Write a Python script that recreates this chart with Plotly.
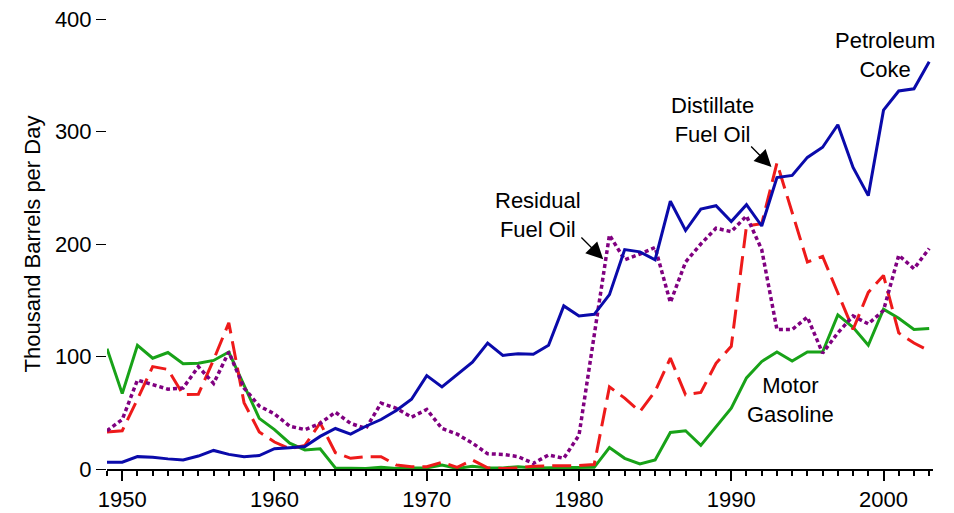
import plotly.graph_objects as go

years = list(range(1949, 2004))

petroleum_coke = [6, 6, 11, 10.5, 9, 8, 11.5, 16.5, 13, 11,
                  12, 18, 19, 20, 29, 36, 31, 38, 44, 52,
                  62, 83, 73, 84, 95, 112, 101, 102.5, 102, 110,
                  145, 136, 137.5, 155, 195, 193, 186, 238, 212, 231,
                  234, 220, 235, 216, 259, 261, 277, 286, 306, 268,
                  243, 319, 336, 338, 362]

motor_gasoline = [107, 67, 110, 98.5, 103.5, 93.5, 94, 96.5, 104, 74,
                  45, 35, 23, 17, 18, 1, 1, 0.5, 1.5, 0.5,
                  1, 1, 3.5, 0.5, 2.5, 1, 1, 2, 1, 1,
                  1, 1, 1.5, 19, 9.5, 4.5, 8, 32.5, 34, 21,
                  37.5, 54, 81, 95.5, 104, 96, 104, 104, 137, 126,
                  110, 142, 134, 124, 125]

distillate_fuel_oil = [33, 34, 62, 91, 88.5, 66, 66.5, 97, 130, 59,
                       33, 24, 18, 21, 41, 14.5, 9.5, 11, 11, 3.5,
                       2, 2, 6, 1.5, 8, 1, 0.5, 1, 2.5, 3,
                       3, 3, 4, 73, 63, 51, 69, 98.5, 66, 68,
                       94, 109, 216, 218, 272, 228, 184, 189, 157, 124,
                       157, 172, 121, 112, 105]

residual_fuel_oil = [34, 44, 79, 75, 71, 72, 91, 76, 104, 72,
                     56, 49, 38, 35, 40.5, 50.5, 40.5, 36, 58.5, 54,
                     46, 53, 36, 31, 23, 13.5, 13, 11, 5, 12.5,
                     9.5, 30, 118, 208, 186, 191, 197, 148, 184, 200,
                     214, 211, 225, 195, 124, 124, 135, 103, 121, 136,
                     129, 141, 190, 178, 196]

y_ticks = [0, 100, 200, 300, 400]
x_ticks = [1950, 1960, 1970, 1980, 1990, 2000]

FONT = "Liberation Sans, Arial, sans-serif"

fig = go.Figure()
fig.add_trace(go.Scatter(x=years, y=motor_gasoline, mode="lines", name="Motor Gasoline",
                         line=dict(color="#18a218", width=3)))
fig.add_trace(go.Scatter(x=years, y=distillate_fuel_oil, mode="lines", name="Distillate Fuel Oil",
                         line=dict(color="#ee1a1a", width=3, dash="19px,8px")))
fig.add_trace(go.Scatter(x=years, y=residual_fuel_oil, mode="lines", name="Residual Fuel Oil",
                         line=dict(color="#800080", width=3.5, dash="4px,3px")))
fig.add_trace(go.Scatter(x=years, y=petroleum_coke, mode="lines", name="Petroleum Coke",
                         line=dict(color="#0a0aaa", width=3)))

labels = [
    ("Petroleum<br>Coke", 2000.08, 368),
    ("Distillate<br>Fuel Oil", 1988.79, 310),
    ("Residual<br>Fuel Oil", 1977.33, 226),
    ("Motor<br>Gasoline", 1993.91, 61),
]
annotations = []
for txt, ax_, ay_ in labels:
    annotations.append(dict(text=txt, x=ax_, y=ay_, xref="x", yref="y", showarrow=False,
                            xanchor="center", yanchor="middle", align="center",
                            font=dict(family=FONT, size=22, color="black")))

arrows = [
    (1981.59, 186.4, 1980.06, 207.1),
    (1992.64, 268.4, 1991.21, 288.0),
]
for hx, hy, tx, ty in arrows:
    annotations.append(dict(text="", x=hx, y=hy, ax=tx, ay=ty, xref="x", yref="y",
                            axref="x", ayref="y", showarrow=True, arrowhead=2,
                            arrowsize=2.6, arrowwidth=1.3, arrowcolor="black"))

# The page body adds an 8px offset, so the figure is sized to fill the rest of the window.
fig.update_layout(
    width=946, height=505,
    autosize=False,
    margin=dict(l=99, r=21, t=11, b=44, pad=0, autoexpand=False),
    paper_bgcolor="white", plot_bgcolor="white",
    showlegend=False,
    font=dict(family=FONT, size=21, color="black"),
    annotations=annotations,
    xaxis=dict(range=[1949, 2003.25], tickvals=x_ticks, ticks="outside", ticklen=10,
               tickwidth=1.5, tickcolor="black", showline=True, linecolor="black",
               linewidth=2, showgrid=False, zeroline=False, automargin=False,
               tickfont=dict(family=FONT, size=22, color="black"),
               minor=dict(tickvals=years, ticks="outside", ticklen=5, tickwidth=1.5,
                          tickcolor="black", showgrid=False)),
    yaxis=dict(range=[0, 400], tickvals=y_ticks, ticks="outside", ticklen=10,
               tickwidth=1, tickcolor="black", showline=False, showgrid=False,
               zeroline=False, ticklabelstandoff=0, automargin=False,
               ticklabeloverflow="allow",
               tickfont=dict(family=FONT, size=22, color="black"),
               title=dict(text="Thousand Barrels per Day", standoff=8,
                          font=dict(family=FONT, size=22, color="black"))),
)

fig.write_html("out.html")
